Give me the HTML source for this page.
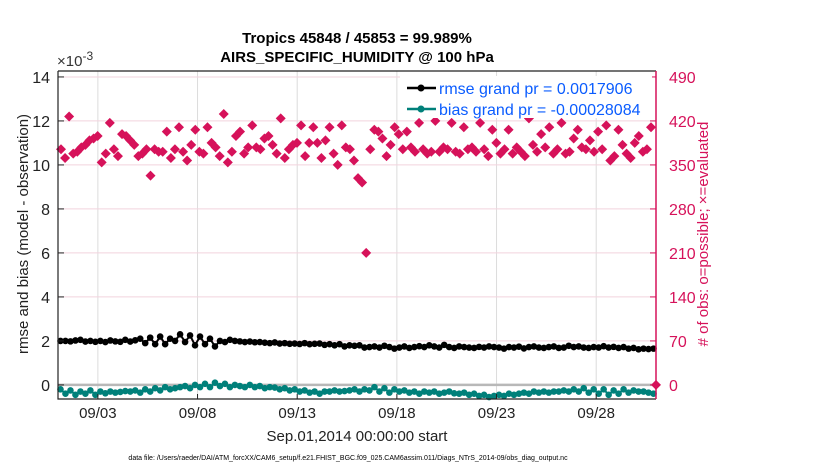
<!DOCTYPE html>
<html><head><meta charset="utf-8"><style>
body{margin:0;background:#fff;}
svg{display:block;font-family:"Liberation Sans",Arial,sans-serif;}
</style></head><body>
<svg id="chart" width="830" height="470" viewBox="0 0 830 470" xmlns="http://www.w3.org/2000/svg">
<rect width="830" height="470" fill="#fff"/>
<g id="grid"></g>
<g id="marks"></g>
<g id="axes"></g>
<text x="357" y="43" text-anchor="middle" font-weight="bold" font-size="15">Tropics 45848 / 45853 = 99.989%</text>
<text x="357" y="62" text-anchor="middle" font-weight="bold" font-size="15">AIRS_SPECIFIC_HUMIDITY @ 100 hPa</text>
<text x="57" y="66" font-size="15" fill="#333">×10<tspan dy="-6" font-size="12">-3</tspan></text>
<text transform="translate(28,234) rotate(-90)" text-anchor="middle" font-size="15" fill="#222">rmse and bias (model - observation)</text>
<text transform="translate(708,234) rotate(-90)" text-anchor="middle" font-size="15" fill="#d6125a"># of obs: o=possible; ×=evaluated</text>
<text x="357" y="441" text-anchor="middle" font-size="15" fill="#222">Sep.01,2014 00:00:00 start</text>
<text x="348" y="460" text-anchor="middle" font-size="7" fill="#000">data file: /Users/raeder/DAI/ATM_forcXX/CAM6_setup/f.e21.FHIST_BGC.f09_025.CAM6assim.011/Diags_NTrS_2014-09/obs_diag_output.nc</text>
<g>
<rect x="400" y="76" width="252" height="42" fill="#fff"/>
<line x1="407" y1="88" x2="436" y2="88" stroke="#000" stroke-width="2.5"/><circle cx="421" cy="88" r="3.5" fill="#000"/>
<text x="439" y="94" font-size="16" fill="#0a5cff">rmse grand pr = 0.0017906</text>
<line x1="407" y1="109" x2="436" y2="109" stroke="#00807a" stroke-width="2.5"/><circle cx="421" cy="109" r="3.5" fill="#00807a"/>
<text x="439" y="115" font-size="16" fill="#0a5cff">bias grand pr = -0.00028084</text>
</g>
</svg>
<script>
const xTickLabels=["09/03","09/08","09/13","09/18","09/23","09/28"];
const xTickDays=[2,7,12,17,22,27];
const yTicks=[0,2,4,6,8,10,12,14];
const y2Ticks=[0,70,140,210,280,350,420,490];
const rmse=[2.0,2.0,1.98,2.02,2.05,1.97,2.0,1.96,2.0,1.95,2.02,1.98,1.96,2.05,1.97,2.03,2.1,1.9,2.15,1.85,2.2,1.85,2.1,2.0,2.3,1.95,2.25,1.8,2.2,1.85,2.1,1.75,2.0,1.95,2.05,2.0,1.98,1.95,1.97,1.94,1.95,1.92,1.9,1.93,1.88,1.9,1.87,1.88,1.86,1.9,1.85,1.87,1.88,1.82,1.85,1.8,1.85,1.75,1.8,1.78,1.8,1.7,1.72,1.75,1.7,1.78,1.72,1.65,1.7,1.75,1.68,1.72,1.76,1.72,1.8,1.75,1.7,1.82,1.72,1.68,1.75,1.72,1.7,1.68,1.73,1.7,1.75,1.72,1.7,1.65,1.72,1.7,1.74,1.66,1.72,1.75,1.7,1.68,1.72,1.75,1.68,1.7,1.78,1.72,1.75,1.7,1.68,1.72,1.7,1.76,1.7,1.73,1.68,1.72,1.65,1.68,1.62,1.65,1.63,1.65];
const bias=[-0.2,-0.4,-0.25,-0.45,-0.3,-0.4,-0.25,-0.45,-0.3,-0.38,-0.3,-0.35,-0.32,-0.28,-0.3,-0.25,-0.35,-0.2,-0.3,-0.15,-0.25,-0.1,-0.2,-0.15,-0.1,-0.05,-0.15,0.0,-0.1,0.05,-0.1,0.1,-0.05,0.05,-0.1,0.0,-0.05,-0.1,0.0,-0.1,-0.05,-0.15,-0.1,-0.12,-0.2,-0.15,-0.25,-0.2,-0.3,-0.25,-0.35,-0.3,-0.4,-0.3,-0.3,-0.25,-0.3,-0.28,-0.25,-0.2,-0.3,-0.2,-0.25,-0.1,-0.3,-0.15,-0.35,-0.2,-0.3,-0.25,-0.35,-0.3,-0.4,-0.3,-0.35,-0.3,-0.4,-0.35,-0.3,-0.38,-0.4,-0.35,-0.45,-0.4,-0.5,-0.45,-0.55,-0.5,-0.45,-0.5,-0.4,-0.45,-0.4,-0.35,-0.4,-0.3,-0.35,-0.3,-0.35,-0.3,-0.3,-0.25,-0.3,-0.2,-0.3,-0.15,-0.35,-0.2,-0.4,-0.2,-0.45,-0.25,-0.4,-0.2,-0.35,-0.25,-0.3,-0.3,-0.35,-0.4];
const obsEvaluated=[10.7,10.3,12.2,10.5,10.6,10.8,10.9,11.1,11.2,11.3,10.1,10.5,11.9,10.7,10.4,11.4,11.3,11.1,10.9,10.4,10.5,10.7,9.5,10.7,10.6,10.6,11.5,10.3,10.7,11.7,10.6,10.2,10.9,11.6,10.6,10.5,11.7,11.0,10.8,10.4,12.3,10.1,10.6,11.3,11.5,10.5,10.8,11.8,10.8,10.7,11.2,11.3,10.9,10.5,12.1,10.3,10.7,10.9,11.0,11.8,10.4,11.0,11.7,11.0,10.3,11.1,11.7,10.5,10.0,11.8,10.8,10.7,10.2,9.4,9.2,6.0,10.7,11.6,11.5,11.2,10.4,10.9,11.7,11.4,10.7,11.5,10.8,10.6,11.9,10.7,10.5,10.6,12.0,10.6,10.8,10.7,11.9,10.6,10.5,11.7,10.7,10.8,10.6,11.9,10.7,10.4,11.6,11.0,10.5,10.7,11.6,10.5,10.8,10.6,10.4,12.1,10.9,10.6,11.4,10.8,11.7,10.5,10.7,11.9,10.5,10.6,11.2,11.6,10.8,10.7,11.1,10.6,11.5,10.7,11.8,10.2,10.4,11.6,10.9,10.5,10.3,11.0,11.3,10.6,10.7,11.7].map(v=>Math.round(v*35));
const obsEndDay=30, obsEndCount=0;

const L=58,R=656,T=71,B=399;
const X0=0,X1=30,Y0=-0.64,Y1=14.27;
const xs=d=>L+(d-X0)/(X1-X0)*(R-L);
const ys=v=>B-(v-Y0)/(Y1-Y0)*(B-T);
const y2s=c=>ys(c/35);
const NS="http://www.w3.org/2000/svg";
function mk(tag,attrs,parent){const e=document.createElementNS(NS,tag);for(const k in attrs)e.setAttribute(k,attrs[k]);parent.appendChild(e);return e;}
const grid=document.getElementById('grid'),marks=document.getElementById('marks'),axes=document.getElementById('axes');

xTickDays.forEach((d,i)=>{
  const g=mk('line',{x1:xs(d),x2:xs(d),y1:T,y2:B,stroke:'#dcdcdc','stroke-width':1},grid);
  
  
  const t=mk('line',{x1:xs(d),x2:xs(d),y1:B,y2:B-5,stroke:'#222'},axes);
  
  
  const tx=mk('text',{x:xs(d),y:B+19,'text-anchor':'middle','font-size':15,fill:'#222'},axes);
  tx.textContent=xTickLabels[i];
  
  
});
y2Ticks.forEach(c=>{
  const g=mk('line',{x1:L,x2:R,y1:y2s(c),y2:y2s(c),stroke:'#f2d3de','stroke-width':1},grid);
  
  
  const t=mk('line',{x1:R,x2:R-6,y1:y2s(c),y2:y2s(c),stroke:'#d6125a'},axes);
  
  
  const tx=mk('text',{x:R+13,y:y2s(c)+6,'font-size':16,fill:'#d6125a'},axes);
  tx.textContent=c;
  
  
});
yTicks.forEach(v=>{
  const t=mk('line',{x1:L,x2:L+6,y1:ys(v),y2:ys(v),stroke:'#222'},axes);
  
  
  const tx=mk('text',{x:L-8,y:ys(v)+6,'text-anchor':'end','font-size':16,fill:'#222'},axes);
  tx.textContent=v;
  
  
});
const zl=mk('line',{x1:L,x2:R,y1:ys(0),y2:ys(0),stroke:'#b8b8b8','stroke-width':2.5},grid);



function dayOf(i,n){return 0.125+i*(29.75/(n-1));}
const nO=obsEvaluated.length;
obsEvaluated.forEach((c,i)=>{
  const x=L+3+i*((651-L-3)/(nO-1)), y=y2s(c);
  const p=mk('path',{d:`M${x} ${y-5}L${x+5} ${y}L${x} ${y+5}L${x-5} ${y}Z`,fill:'#d6125a'},marks);
  
  
});
{const x=xs(obsEndDay),y=y2s(obsEndCount);
 const p=mk('path',{d:`M${x} ${y-5}L${x+5} ${y}L${x} ${y+5}L${x-5} ${y}Z`,fill:'#d6125a'},marks);
 
 }
function series(arr,color,name){
  const n=arr.length;
  const pts=arr.map((v,i)=>xs(dayOf(i,n)).toFixed(1)+','+ys(v).toFixed(1)).join(' ');
  const pl=mk('polyline',{points:pts,fill:'none',stroke:color,'stroke-width':2},marks);
  
  
  arr.forEach((v,i)=>{
    const c=mk('circle',{cx:xs(dayOf(i,n)),cy:ys(v),r:3.3,fill:color},marks);
    
    
  });
}
series(bias,'#00807a','bias');
series(rmse,'#000','rmse');

const fr=mk('path',{d:`M${L} ${T}H${R}M${L} ${T}V${B}H${R}`,fill:'none',stroke:'#222','stroke-width':1.2},axes);


const ra=mk('line',{x1:R,x2:R,y1:T,y2:B,stroke:'#d6125a','stroke-width':1.5},axes);


</script>
</body></html>
